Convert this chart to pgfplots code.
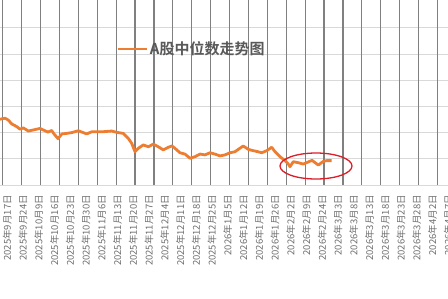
\documentclass[border=0pt]{standalone}
\usepackage{pgfplots}
\pgfplotsset{compat=1.18}
\usepackage{fontspec}
\newfontfamily\cjk{Noto Sans CJK SC}
\newfontfamily\cjkb{Noto Sans CJK SC Bold}
\definecolor{lineor}{RGB}{237,125,49}
\definecolor{txt}{RGB}{89,89,89}
\definecolor{lbl}{RGB}{110,110,110}
\definecolor{vgrid}{RGB}{128,128,128}
\definecolor{hgrid}{RGB}{217,217,217}
\definecolor{circ}{RGB}{220,30,40}
\begin{document}
\begin{tikzpicture}
\useasboundingbox (0,0) rectangle (448pt,298pt);
\clip (0,0) rectangle (448pt,298pt);
\begin{axis}[
  at={(0pt,113pt)}, anchor=south west,
  x=1pt, y=26.2pt,
  xmin=0, xmax=450, ymin=0, ymax=7.1,
  axis line style={draw=none},
  tick style={draw=none},
  ytick={0,1,2,3,4,5,6}, yticklabels={},
  ymajorgrids,
  major grid style={hgrid, line width=0.9pt},
  xtick={7.3,23.05,38.8,54.55,70.3,86.05,101.8,117.55,133.3,149.05,164.8,180.55,196.3,212.05,227.8,243.55,259.3,275.05,290.8,306.55,322.3,338.05,353.8,369.55,385.3,401.05,416.8,432.55,448.3},
  xticklabels={2025年9月17日,2025年9月24日,2025年10月9日,2025年10月16日,2025年10月23日,2025年10月30日,2025年11月6日,2025年11月13日,2025年11月20日,2025年11月27日,2025年12月4日,2025年12月11日,2025年12月18日,2025年12月25日,2026年1月5日,2026年1月12日,2026年1月19日,2026年1月26日,2026年2月2日,2026年2月9日,2026年2月24日,2026年3月3日,2026年3月8日,2026年3月13日,2026年3月18日,2026年3月23日,2026年3月28日,2026年4月2日,2026年4月7日},
  xticklabel style={rotate=90, anchor=east, inner sep=0pt, font=\cjk\fontsize{9.5}{10}\selectfont, text=lbl},
  xticklabel shift=10pt,
  extra x ticks={2.7,21.6,40.5,59.4,78.3,97.2,116.1,135,153.9,172.8,191.7,210.6,229.5,248.4,267.3,286.2,305.1,324,342.9,361.8,380.7,399.6,418.5,437.4},
  extra x tick labels={},
  extra x tick style={grid=major, major grid style={vgrid, line width=1.2pt}},
  legend style={at={(axis cs:116,5.19)}, anchor=west, draw=none, fill=none, inner sep=0pt,
    font=\cjkb\fontsize{15}{18}\selectfont, text=txt},
  legend image code/.code={\draw[#1] (0pt,0pt) -- (29pt,0pt);},
]
\addplot[lineor, line width=2.8pt, line join=round] coordinates {
(0,2.51)(5,2.55)(8.3,2.48)(11.7,2.33)(16.7,2.23)(20,2.13)(23.3,2.18)(28.3,2.06)(33.3,2.10)(40,2.16)(45,2.07)(48,2.02)(51.7,2.08)(54,1.95)(58,1.77)(62,1.95)(66.7,1.97)(71.7,2.00)(78.3,2.07)(83.3,2.00)(86.7,1.95)(91.7,2.03)(101.7,2.03)(111.7,2.06)(116.7,2.01)(123.3,1.97)(128.3,1.78)(131.7,1.59)(135,1.27)(138.3,1.40)(143.3,1.53)(148.3,1.46)(153.3,1.56)(158.3,1.46)(163.3,1.34)(168.3,1.44)(172,1.49)(175,1.40)(180,1.23)(185,1.18)(190,1.02)(195,1.08)(200,1.18)(205,1.15)(210,1.23)(215,1.18)(220,1.11)(225,1.15)(230,1.23)(235,1.27)(238.3,1.36)(243.3,1.49)(248.3,1.36)(253.3,1.31)(258,1.27)(261.7,1.23)(266.7,1.31)(271.7,1.44)(275,1.27)(280,1.08)(285,0.93)(288.3,0.80)(290,0.70)(293.3,0.89)(298.3,0.85)(303.3,0.80)(308.3,0.88)(312,0.94)(318.3,0.76)(323.3,0.90)(326.7,0.93)(331.7,0.93)
};
\addlegendentry{A股中位数走势图}
\draw[circ, line width=1.3pt] (axis cs:316,0.725) ellipse [x radius=36pt, y radius=13pt];
\end{axis}
\end{tikzpicture}
\end{document}
